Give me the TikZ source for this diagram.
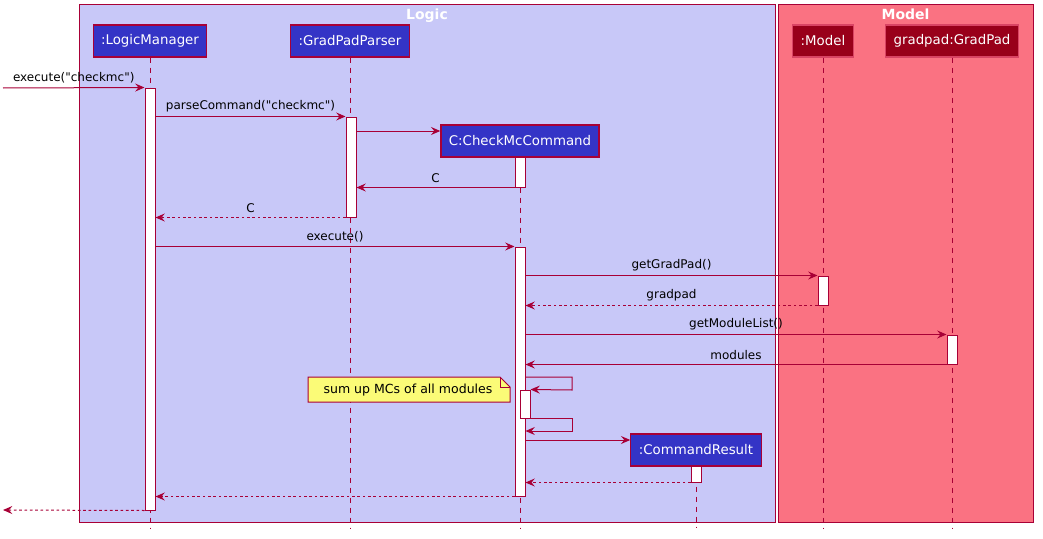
\documentclass[tikz,border=0pt]{standalone}
\usepackage{fontspec}
\setmainfont{DejaVu Sans}
\usetikzlibrary{arrows.meta,fit}
\definecolor{crimson}{HTML}{A80036}
\definecolor{logicfill}{HTML}{C8C8F8}
\definecolor{modelfill}{HTML}{FA7282}
\definecolor{partblue}{HTML}{3434C6}
\definecolor{partred}{HTML}{99001A}
\definecolor{notefill}{HTML}{FBFB77}
\newcommand{\qt}{\textquotedbl}
\begin{document}
\begin{tikzpicture}[x=0.75pt, y=-0.75pt,
                    group/.style={draw=crimson, line width=0.75pt, inner sep=0},
                    group_title/.style={below, inner sep=1pt, yshift=-2.5pt, text=white, font=\bfseries\fontsize{10.5}{12}\selectfont},
                    participant/.style={draw=crimson, line width=0.9pt, fill=partblue, text=white, minimum height=24pt, inner xsep=6pt, font=\fontsize{10}{12}\selectfont},
                    model_part/.style={participant, fill=partred, draw=crimson!40!modelfill},
                    lifeline/.style={crimson, line width=0.75pt, dash pattern=on 3.75pt off 3.75pt},
                    activation/.style={draw=crimson, fill=white, line width=0.75pt, inner sep=0},
                    msg/.style={-{Stealth[length=7pt, width=6pt, inset=2.5pt]}, crimson, line width=0.75pt},
                    reply/.style={msg, dash pattern=on 2pt off 2pt},
                    msg_label/.style={midway, above, inner sep=3pt, text=black, font=\fontsize{9}{11}\selectfont}
                    ]
    \useasboundingbox (0,0) rectangle (1043,539);

    % groups
    \node[group, fill=logicfill, fit={(79,4) (775,522)}] (Logic) {};
    \node[group, fill=modelfill, fit={(778,4) (1033,522)}] (Model) {};
    \node[group_title] (logic_title) at (Logic.north) {Logic};
    \node[group_title] (model_title) at (Model.north) {Model};

    \coordinate (bottom) at (0,528);
    \coordinate (caller) at (3,88);
    \coordinate (caller_end) at (3,510);

    % participants
    \node[participant] (LM) at (150,41) {:LogicManager};
    \node[participant] (GPP) at (350,41) {:GradPadParser};
    \node[participant] (CMC) at (520,141) {C:CheckMcCommand};
    \node[model_part] (Mdl) at (823,41) {:Model};
    \node[model_part] (GP) at (952,41) {gradpad:GradPad};
    \node[participant] (CR) at (696,450) {:CommandResult};

    \foreach \p in {LM,GPP,CMC,Mdl,GP,CR} {
        \draw[lifeline] (\p.south) -- (\p.south |- bottom);
    }

    % activations
    \node[activation, fit={(145,88) (155,510)}] (LMa) {};
    \node[activation, fit={(346,117) (356,217)}] (GPPa) {};
    \node[activation, fit={(515,157) (525,187)}] (CMCa1) {};
    \node[activation, fit={(515,247) (525,496)}] (CMCa2) {};
    \node[activation, fit={(520,390) (530,418)}] (CMCa3) {};
    \node[activation, fit={(818,276) (828,305)}] (Mdla) {};
    \node[activation, fit={(947,335) (957,364)}] (GPa) {};
    \node[activation, fit={(691,466) (701,482)}] (CRa) {};

    % messages
    \draw[msg] (caller) -- (LMa.north west) node[msg_label] {execute(\qt checkmc\qt)};
    \draw[msg] (LMa.east |- GPPa.north) -- (GPPa.north west) node[msg_label] {parseCommand(\qt checkmc\qt)};
    \draw[msg] (GPPa.east |- 0,131) -- (CMC.west |- 0,131);
    \draw[msg] (CMCa1.south west) -- (GPPa.east |- CMCa1.south) node[msg_label] {C};
    \draw[reply] (GPPa.south west) -- (LMa.east |- GPPa.south) node[msg_label] {C};
    \draw[msg] (LMa.east |- CMCa2.north) -- (CMCa2.north west) node[msg_label] {execute()};
    \draw[msg] (CMCa2.east |- Mdla.north) -- (Mdla.north west) node[msg_label] {getGradPad()};
    \draw[reply] (Mdla.south west) -- (CMCa2.east |- Mdla.south) node[msg_label] {gradpad};
    \draw[msg] (CMCa2.east |- GPa.north) -- (GPa.north west) node[msg_label] {getModuleList()};
    \draw[msg] (GPa.south west) -- (CMCa2.east |- GPa.south) node[msg_label] {modules};
    \draw[msg] (CMCa2.east |- 0,377) -| (572,390) -- (CMCa3.north east);
    \draw[msg] (CMCa3.south east) -| (572,431) -- (CMCa2.east |- 0,431);
    \draw[msg] (CMCa2.east |- 0,440) -- (CR.west |- 0,440);
    \draw[reply] (CRa.south west) -- (CMCa2.east |- CRa.south);
    \draw[reply] (CMCa2.south west) -- (LMa.east |- CMCa2.south);
    \draw[reply] (LMa.south west) -- (caller_end);

    % note
    \filldraw[crimson, fill=notefill, line width=0.75pt] (308,377) -- (500,377) -- (510,387) -- (510,402) -- (308,402) -- cycle;
    \draw[crimson, line width=0.75pt] (500,377) -- (500,387) -- (510,387);
    \node[font=\fontsize{9.4}{11}\selectfont] (note_text) at (408,390) {sum up MCs of all modules};
\end{tikzpicture}
\end{document}
